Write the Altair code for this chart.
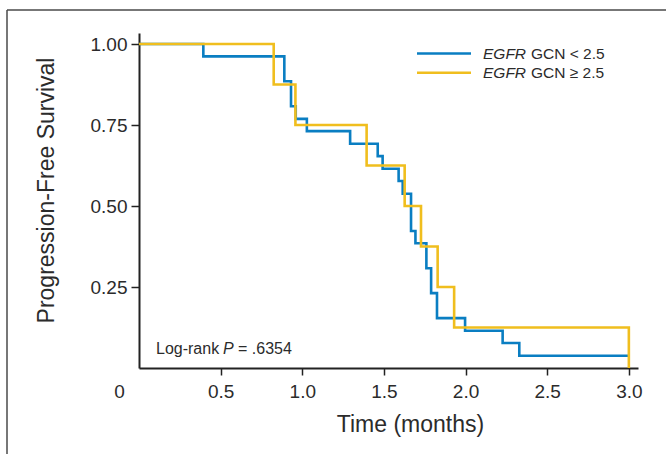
import altair as alt
import pandas as pd

# ---- data (Kaplan-Meier step curves) ----
groups = ["EGFR GCN < 2.5", "EGFR GCN \u2265 2.5"]
colors = ["#0a7ec2", "#f0be1e"]

blue_time = [0, 0.394, 0.89, 0.931, 0.96, 1.028, 1.293, 1.462, 1.492, 1.59,
             1.615, 1.666, 1.693, 1.76, 1.789, 1.825, 1.997, 2.227, 2.329, 3.0]
blue_surv = [1.0, 0.962, 0.885, 0.808, 0.769, 0.731, 0.692, 0.654, 0.615, 0.577,
             0.538, 0.423, 0.385, 0.308, 0.231, 0.154, 0.115, 0.077, 0.038, 0.038]

yellow_time = [0, 0.825, 0.958, 1.394, 1.627, 1.727, 1.829, 1.93, 3.0]
yellow_surv = [1.0, 0.875, 0.75, 0.625, 0.5, 0.375, 0.25, 0.125, 0.0]

x_ticks = [0.5, 1.0, 1.5, 2.0, 2.5, 3.0]
y_ticks = [0.25, 0.5, 0.75, 1.0]

df = pd.concat([
    pd.DataFrame({"time": blue_time, "survival": blue_surv, "group": groups[0]}),
    pd.DataFrame({"time": yellow_time, "survival": yellow_surv, "group": groups[1]}),
])

FONT = "Liberation Sans, Arial, Helvetica, sans-serif"
TXT = "#2b2b2b"

curves = alt.Chart(df).mark_line(interpolate="step-after", strokeWidth=2.6).encode(
    x=alt.X("time:Q",
            scale=alt.Scale(domain=[0, 3.056], nice=False, zero=True),
            axis=alt.Axis(values=x_ticks, format=".1f", title="Time (months)",
                          tickSize=7, labelPadding=7, labelFontSize=19,
                          titleFontSize=23, titleX=271, titleY=63,
                          titleBaseline="alphabetic", titleAlign="center")),
    y=alt.Y("survival:Q",
            scale=alt.Scale(domain=[0, 1.034], nice=False),
            axis=alt.Axis(values=y_ticks, format=".2f", title="Progression-Free Survival",
                          tickSize=8, labelPadding=4, labelFontSize=19,
                          titleFontSize=23, titleAngle=270, titleX=-86, titleY=157,
                          titleBaseline="alphabetic", titleAlign="center")),
    color=alt.Color("group:N", scale=alt.Scale(domain=groups, range=colors), legend=None),
)

one = alt.Data(values=[{}])


def text(s, x, y, size=15, style="normal"):
    return alt.Chart(one).mark_text(
        text=s, align="left", baseline="alphabetic", font=FONT, fontSize=size,
        fontStyle=style, color=TXT
    ).encode(x=alt.value(x), y=alt.value(y))


def rule(x1, x2, y1, y2, color, width):
    return alt.Chart(one).mark_rule(color=color, strokeWidth=width).encode(
        x=alt.value(x1), x2=alt.value(x2), y=alt.value(y1), y2=alt.value(y2))


# legend
leg = [
    rule(278, 332, 20.5, 20.5, colors[0], 2.6),
    rule(278, 332, 39.7, 39.7, colors[1], 2.6),
    text("EGFR", 344, 25.5, size=15.5, style="italic"),
    text("GCN < 2.5", 392, 25.5, size=15.5),
    text("EGFR", 344, 44.5, size=15.5, style="italic"),
    text("GCN \u2265 2.5", 392, 44.5, size=15.5),
]

# annotation
ann = [
    text("Log-rank", 17, 320.5, size=16),
    text("P", 84, 320.5, size=16, style="italic"),
    text("= .6354", 99, 320.5, size=16),
    alt.Chart(one).mark_text(text="0", align="center", baseline="alphabetic",
                             font=FONT, fontSize=19, color=TXT
                             ).encode(x=alt.value(-19.5), y=alt.value(364.5)),
]

# outer frame (left and top edges of the figure box)
frame = [
    rule(-132, -132, -23, 440, "#4a4a4a", 1.5),
    rule(-132, 540, -23, -23, "#4a4a4a", 1.5),
]

chart = alt.layer(curves, *leg, *ann, *frame).properties(
    width=499, height=335,
    autosize=alt.AutoSizeParams(type="none"),
    padding={"left": 139, "top": 33, "right": 28, "bottom": 86},
    background="white",
).configure_view(stroke=None).configure_axis(
    grid=False, domainColor="#222", domainWidth=2, tickColor="#222", tickWidth=1.5,
    labelFont=FONT, labelColor=TXT, titleFont=FONT, titleColor=TXT,
    titleFontWeight="normal",
)

chart.save("out.html", embed_options={"renderer": "svg", "actions": False})
